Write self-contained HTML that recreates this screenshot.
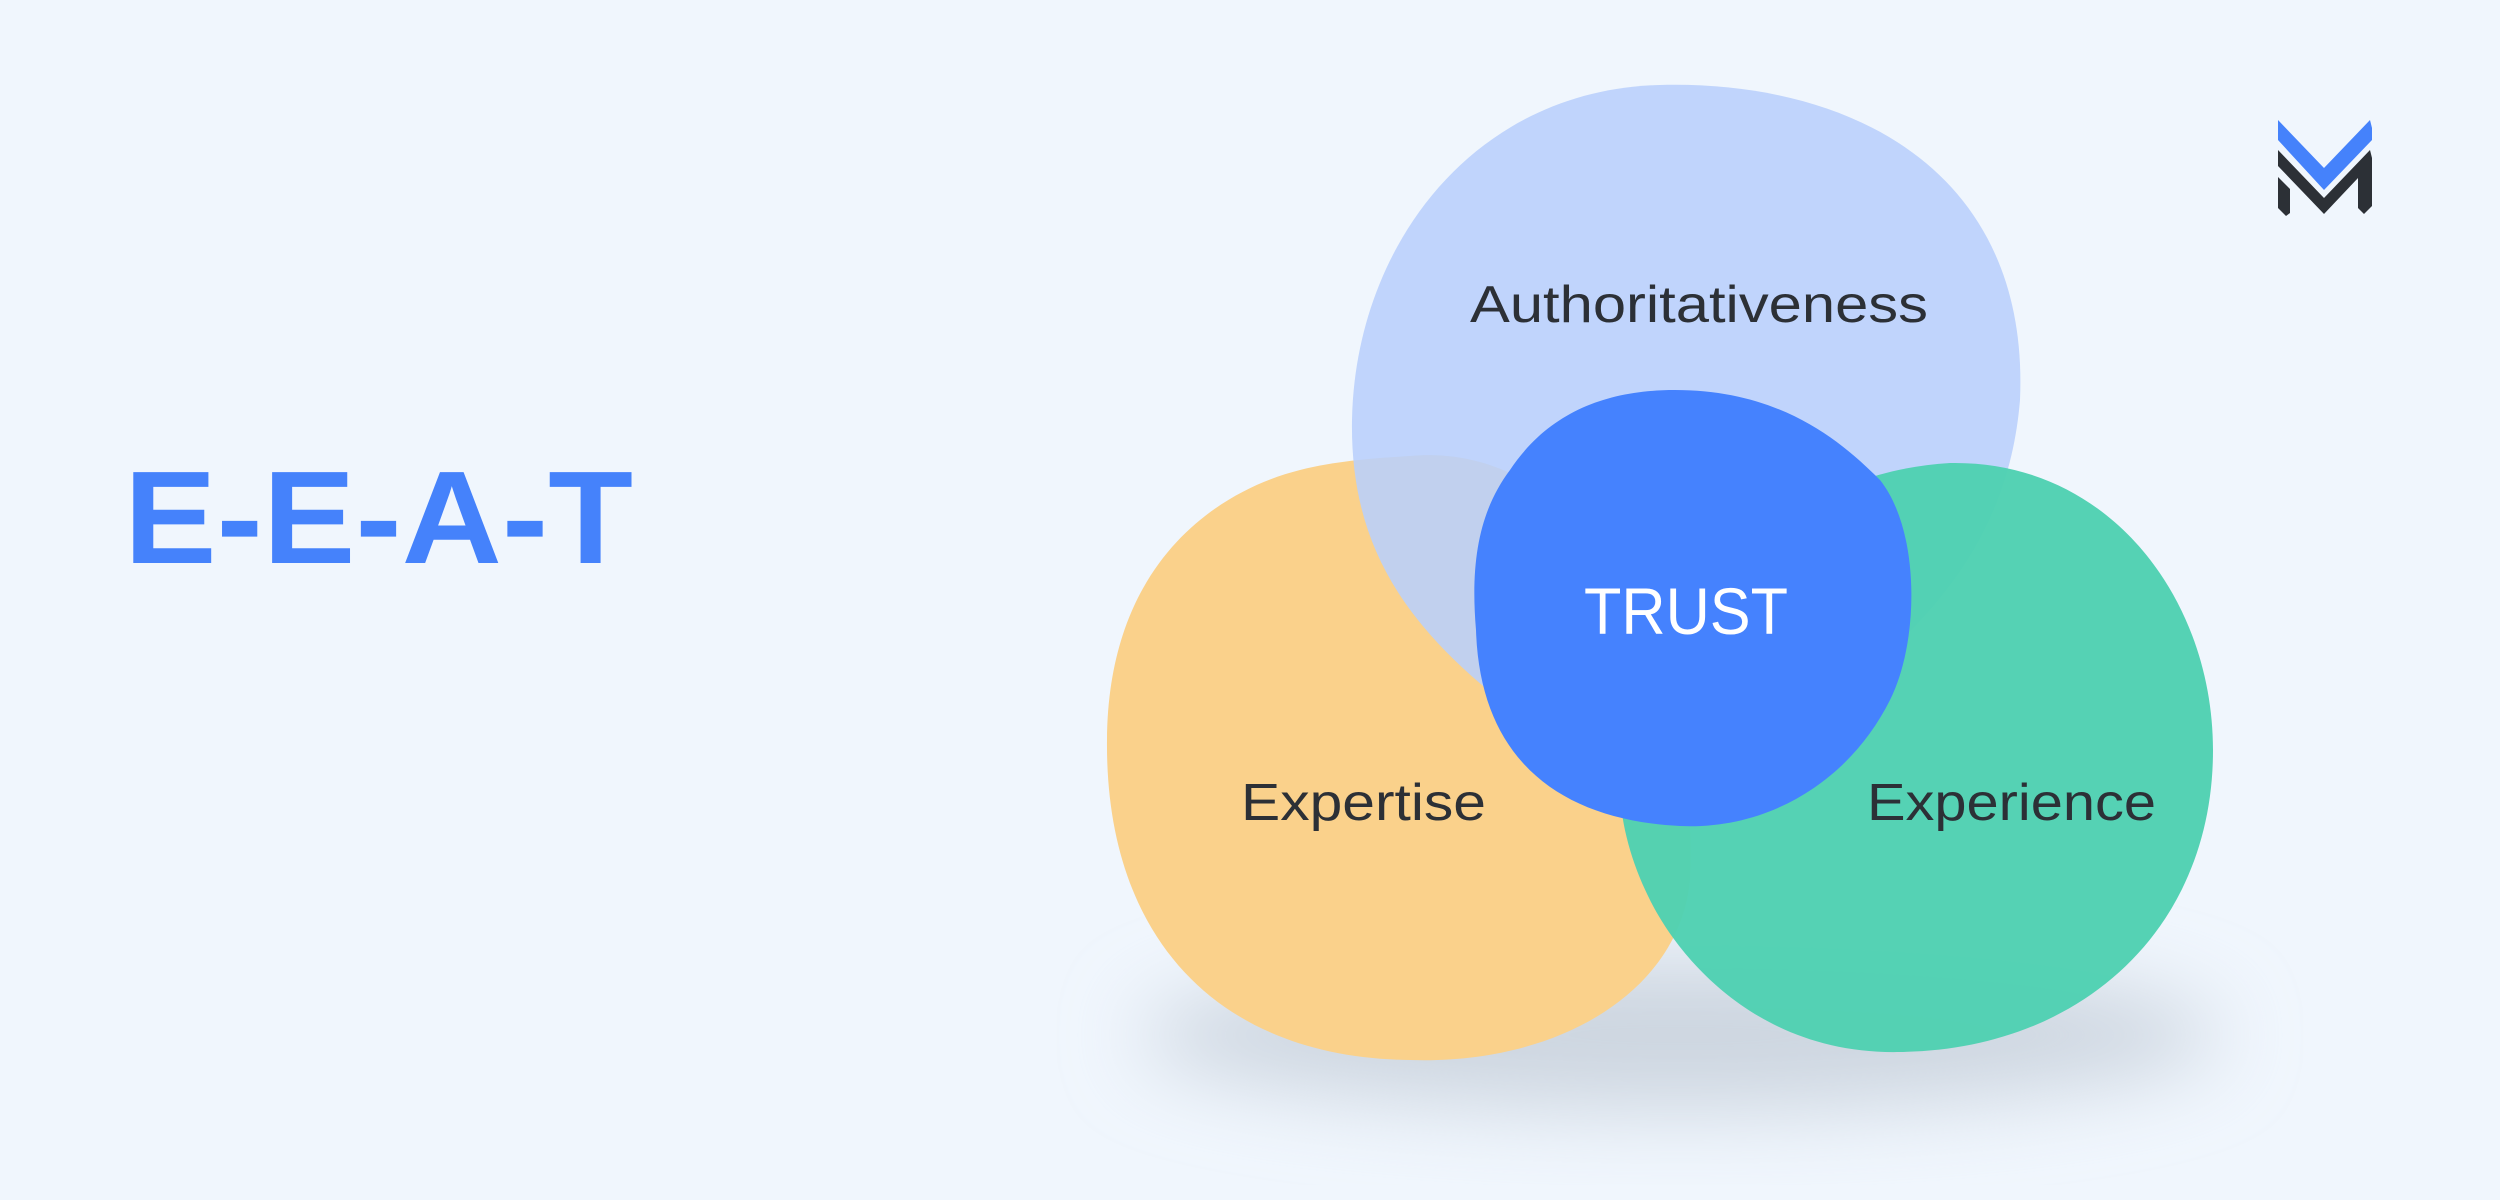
<!DOCTYPE html>
<html><head><meta charset="utf-8"><style>
html,body{margin:0;padding:0;background:#f0f6fd;}
svg{display:block}
</style></head><body>
<svg width="2500" height="1200" viewBox="0 0 2500 1200" xmlns="http://www.w3.org/2000/svg">
<defs>
<filter id="bl" x="-50%" y="-50%" width="200%" height="200%"><feGaussianBlur stdDeviation="40"/></filter>
</defs>
<rect width="2500" height="1200" fill="#f0f6fd"/>
<text x="124" y="563" font-family="Liberation Sans, sans-serif" font-weight="bold" font-size="132" fill="#4582fb" textLength="509" lengthAdjust="spacingAndGlyphs">E-E-A-T</text>
<!-- logo -->
<polygon points="2278,120 2324,168 2370,120 2372,128 2372,140 2324,190 2278,140" fill="#4582fb"/>
<polygon points="2278,150 2324,198 2370,150 2372,158 2372,206 2364,214 2358,208 2358,178 2324,214 2278,166" fill="#2c3036"/>
<polygon points="2278,177 2290,189 2290,213 2286,216 2278,208" fill="#2c3036"/>
<!-- shadow -->
<ellipse cx="1680" cy="1035" rx="540" ry="75" fill="#cdd6e0" filter="url(#bl)"/>
<!-- orange -->
<path d="M1410,456 C1580,440 1700,640 1690,880 C1680,990 1560,1065 1410,1060 C1220,1058 1105,940 1107,740 C1108,560 1220,490 1300,470 C1340,460 1380,458 1410,456 Z" fill="#fad18b"/>
<!-- blue -->
<path d="M1660,85 C1850,80 2030,170 2020,400 C2010,520 1950,620 1800,720 L1500,700 C1400,620 1350,540 1352,420 C1355,250 1470,90 1660,85 Z" fill="#b8cffc" fill-opacity="0.88"/>
<!-- green -->
<path d="M1950,463 C2110,460 2213,600 2213,750 C2213,930 2080,1050 1900,1052 C1760,1055 1680,960 1650,900 C1610,820 1600,720 1680,640 C1760,520 1840,470 1950,463 Z" fill="#4fd1b2" fill-opacity="0.97"/>
<!-- trust -->
<path d="M1675,390 C1780,390 1840,440 1880,480 C1920,530 1920,640 1890,700 C1850,780 1770,830 1680,826 C1560,820 1480,760 1476,630 C1470,560 1480,510 1510,470 C1550,410 1610,390 1675,390 Z" fill="#4582fe"/>
<g font-family="Liberation Sans, sans-serif" fill="#2c3036" font-size="52">
<text x="1470" y="322" textLength="458" lengthAdjust="spacingAndGlyphs">Authoritativeness</text>
<text x="1241" y="820" textLength="245" lengthAdjust="spacingAndGlyphs">Expertise</text>
<text x="1867" y="820" textLength="289" lengthAdjust="spacingAndGlyphs">Experience</text>
<text x="1584" y="634" font-size="66" fill="#ffffff" textLength="204" lengthAdjust="spacingAndGlyphs">TRUST</text>
</g>
</svg>
</body></html>
